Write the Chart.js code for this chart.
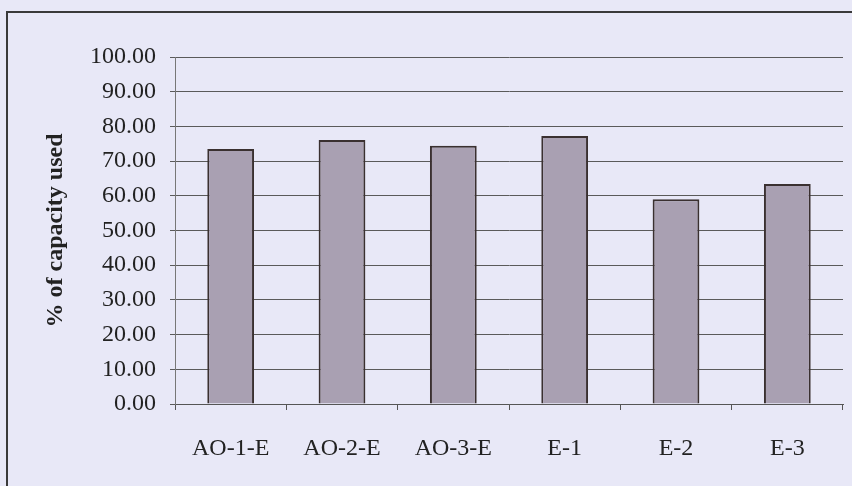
<!DOCTYPE html>
<html>
<head>
<meta charset="utf-8">
<script src="https://cdn.jsdelivr.net/npm/chart.js@4"></script>
<style>
    html, body { margin: 0; padding: 0; background: #e8e8f7; }
    #wrap { position: relative; width: 852px; height: 486px; overflow: hidden; }
    #frame { position: absolute; left: 6px; top: 11px; width: 900px; height: 600px; border: 2px solid #3a3a3a; }
    canvas { position: absolute; left: 0; top: 0; }
</style>
</head>
<body>
<div id="wrap">
    <div id="frame"></div>
    <canvas id="barChart" width="852" height="486"></canvas>
</div>
<script>
// categorias e valores
var categories = ["AO-1-E", "AO-2-E", "AO-3-E", "E-1", "E-2", "E-3"];
var capacityUsed = [73.5, 76.1, 74.4, 77.2, 59.0, 63.4];
var yMin = 0, yMax = 100, yStep = 10;

var barData = {
    labels: categories,
    datasets: [{
        label: "% of capacity used",
        backgroundColor: "#a9a0b2",
        borderColor: "#3a3030",
        borderWidth: 2,
        barPercentage: 0.42,
        categoryPercentage: 1.0,
        data: capacityUsed
    }]
};

var barOptions = {
    responsive: false,
    animation: false,
    layout: {padding: {left: 0, top: 57, right: 9, bottom: 0}},
    plugins: {legend: {display: false}, tooltip: {enabled: false}},
    scales: {
        x: {
            grid: {display: true, drawOnChartArea: false, offset: true, color: "#555", tickLength: 6},
            border: {color: "#555", width: 1},
            ticks: {color: "#222", padding: 24, maxRotation: 0, font: {family: "Liberation Serif", size: 24}},
            afterFit: function (s) { s.height = 82; }
        },
        y: {
            min: yMin,
            max: yMax,
            grid: {color: "#5a5a5a", tickLength: 5},
            border: {color: "#777", width: 1},
            ticks: {
                stepSize: yStep,
                color: "#222",
                padding: 14,
                font: {family: "Liberation Serif", size: 24},
                callback: function (v) { return v.toFixed(2); }
            },
            title: {
                display: true,
                text: "% of capacity used",
                color: "#222",
                font: {family: "Liberation Serif", size: 24, weight: "bold"},
                padding: {top: 41, bottom: 0}
            },
            afterFit: function (s) { s.width = 175; }
        }
    }
};

var ctx = document.getElementById("barChart").getContext("2d");
new Chart(ctx, {type: 'bar', data: barData, options: barOptions});
</script>
</body>
</html>
